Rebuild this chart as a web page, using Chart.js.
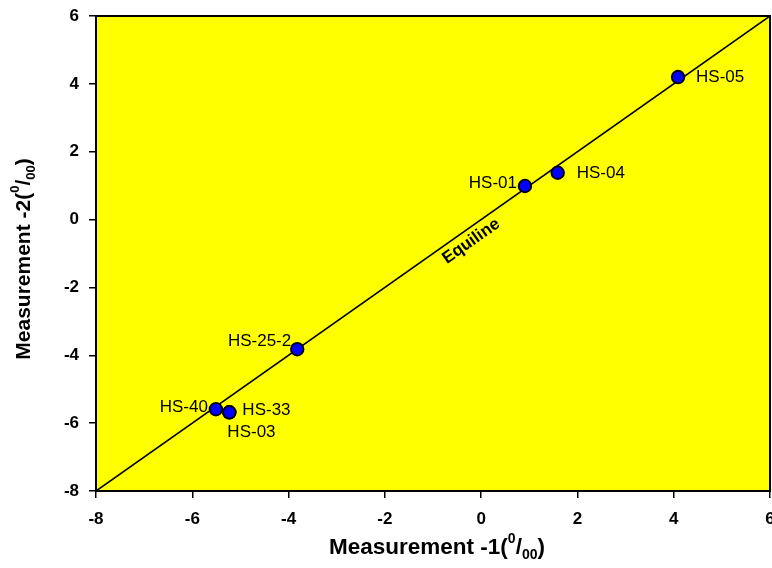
<!DOCTYPE html>
<html>
<head>
<meta charset="utf-8">
<script src="https://cdn.jsdelivr.net/npm/chart.js@4.4.0/dist/chart.umd.min.js"></script>
<style>
  html, body { margin: 0; padding: 0; background: #fff; }
  #wrap { width: 772px; height: 568px; }
</style>
</head>
<body>
<div id="wrap"><canvas id="scatterChart"></canvas></div>
<script>
// sample data
var samples = ['HS-05', 'HS-04', 'HS-01', 'HS-25-2', 'HS-40', 'HS-33', 'HS-03'];
var meas1 = [4.09, 1.59, 0.91, -3.82, -5.51, -5.23, -5.23];
var meas2 = [4.2, 1.38, 0.99, -3.82, -5.59, -5.68, -5.68];
var equiX = [-8, 6];
var equiY = [-8, 6];
var xTicks = [-8, -6, -4, -2, 0, 2, 4, 6];
var yTicks = [-8, -6, -4, -2, 0, 2, 4, 6];

// where each label sits relative to its point (px)
var labelPos = [
    {dx: 18, dy: 0, align: 'left'},
    {dx: 19, dy: 1, align: 'left'},
    {dx: -8, dy: -3, align: 'right'},
    {dx: -6, dy: -8, align: 'right'},
    {dx: -8, dy: -2, align: 'right'},
    {dx: 13, dy: -2, align: 'left'},
    {dx: -2, dy: 20, align: 'left'}
];

var pts = samples.map(function(s, i){ return {x: meas1[i], y: meas2[i]}; });
var line = equiX.map(function(v, i){ return {x: v, y: equiY[i]}; });

var plotDeco = {
    id: 'plotDeco',
    beforeDraw: function(chart){
        var a = chart.chartArea, ctx = chart.ctx;
        ctx.save();
        ctx.fillStyle = '#FFFF00';
        ctx.fillRect(a.left, a.top, a.right - a.left, a.bottom - a.top);
        ctx.restore();
    },
    afterDraw: function(chart){
        var a = chart.chartArea, ctx = chart.ctx;
        var xs = chart.scales.x, ys = chart.scales.y;
        ctx.save();
        // frame
        ctx.strokeStyle = '#000';
        ctx.lineWidth = 2;
        ctx.strokeRect(a.left, a.top, a.right - a.left, a.bottom - a.top);

        // point labels
        ctx.fillStyle = '#000';
        ctx.font = '17px "Liberation Sans", Arial, sans-serif';
        ctx.textBaseline = 'middle';
        samples.forEach(function(s, i){
            var px = xs.getPixelForValue(meas1[i]);
            var py = ys.getPixelForValue(meas2[i]);
            ctx.textAlign = labelPos[i].align;
            ctx.fillText(s, px + labelPos[i].dx, py + labelPos[i].dy);
        });

        // equiline label
        var lx = xs.getPixelForValue(-0.35), ly = ys.getPixelForValue(-0.35);
        var ang = Math.atan2(ys.getPixelForValue(6) - ys.getPixelForValue(-8),
                             xs.getPixelForValue(6) - xs.getPixelForValue(-8));
        ctx.save();
        ctx.translate(lx, ly);
        ctx.rotate(ang);
        ctx.font = 'bold 17px "Liberation Sans", Arial, sans-serif';
        ctx.textAlign = 'center';
        ctx.textBaseline = 'middle';
        ctx.fillText('Equiline', 0, 12);
        ctx.restore();

        // axis titles with per-mil style unit
        drawTitle(ctx, 'Measurement -1(', (a.left + a.right) / 2 + 4, 548, 0, 22.5);
        drawTitle(ctx, 'Measurement -2(', 24, 259, -Math.PI / 2, 21);
        ctx.restore();
    }
};

function drawTitle(ctx, main, cx, cy, rot, size){
    var big = 'bold ' + size + 'px "Liberation Sans", Arial, sans-serif';
    var small = 'bold ' + Math.round(size * 0.62) + 'px "Liberation Sans", Arial, sans-serif';
    var parts = [
        {t: main, f: big, dy: 0},
        {t: '0', f: small, dy: -9},
        {t: '/', f: big, dy: 0},
        {t: '00', f: small, dy: 7},
        {t: ')', f: big, dy: 0}
    ];
    var w = 0;
    parts.forEach(function(p){ ctx.font = p.f; p.w = ctx.measureText(p.t).width; w += p.w; });
    ctx.save();
    ctx.translate(cx, cy);
    ctx.rotate(rot);
    ctx.fillStyle = '#000';
    ctx.textAlign = 'left';
    ctx.textBaseline = 'middle';
    var x = -w / 2;
    parts.forEach(function(p){
        ctx.font = p.f;
        ctx.fillText(p.t, x, p.dy);
        x += p.w;
    });
    ctx.restore();
}

const config_scatter = {
    type: 'scatter',
    data: {
        datasets: [{
            label: 'Equiline',
            data: line,
            showLine: true,
            borderColor: '#000',
            borderWidth: 1.6,
            pointRadius: 0,
            order: 2
        }, {
            label: 'Samples',
            data: pts,
            backgroundColor: '#0000FF',
            borderColor: '#000',
            borderWidth: 1.8,
            pointRadius: 6.3,
            order: 1
        }]
    },
    options: {
        responsive: true,
        maintainAspectRatio: false,
        animation: false,
        layout: { autoPadding: false, padding: { left: 0, right: 2, top: 16, bottom: 0 } },
        plugins: {
            legend: { display: false },
            tooltip: { enabled: false }
        },
        scales: {
            x: {
                type: 'linear',
                min: -8, max: 6,
                afterBuildTicks: function(s){ s.ticks = xTicks.map(function(v){ return {value: v}; }); },
                afterFit: function(s){ s.height = 77; s.paddingRight = 0; s.paddingLeft = 0; },
                grid: { drawOnChartArea: false, drawTicks: true, tickLength: 7, color: '#000', lineWidth: 1.5 },
                border: { display: false },
                ticks: {
                    color: '#000', padding: 11,
                    font: { family: '"Liberation Sans", Arial, sans-serif', size: 17, weight: 'bold' }
                }
            },
            y: {
                type: 'linear',
                min: -8, max: 6,
                afterBuildTicks: function(s){ s.ticks = yTicks.map(function(v){ return {value: v}; }); },
                afterFit: function(s){ s.width = 96; s.paddingTop = 0; s.paddingBottom = 0; },
                grid: { drawOnChartArea: false, drawTicks: true, tickLength: 7, color: '#000', lineWidth: 1.5 },
                border: { display: false },
                ticks: {
                    color: '#000', padding: 10,
                    font: { family: '"Liberation Sans", Arial, sans-serif', size: 17, weight: 'bold' }
                }
            }
        }
    },
    plugins: [plotDeco]
};

const scatterChart = new Chart(
    document.getElementById('scatterChart'),
    config_scatter
);
</script>
</body>
</html>
